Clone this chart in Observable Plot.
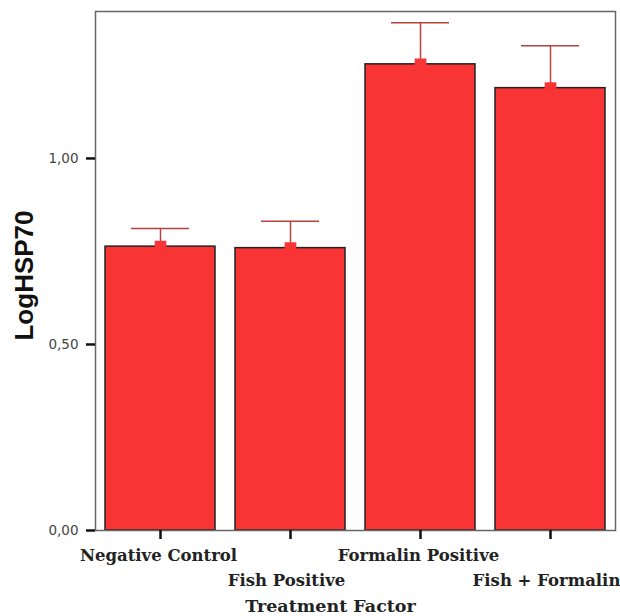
<!DOCTYPE html>
<html>
<head>
<meta charset="utf-8">
<script src="https://cdn.jsdelivr.net/npm/d3@7"></script>
<script src="https://cdn.jsdelivr.net/npm/@observablehq/plot@0.6"></script>
<style>
  html, body { margin: 0; padding: 0; background: #fff; }
</style>
</head>
<body>
<div id="chart"></div>
<script>
const categories = ["Negative Control", "Fish Positive", "Formalin Positive", "Fish + Formalin"];
const means = [0.763, 0.759, 1.253, 1.189];
const upper = [0.812, 0.831, 1.365, 1.303];
const yTicks = [0, 0.5, 1.0];

const data = categories.map((c, i) => ({cat: c, mean: means[i], upper: upper[i]}));
const serif = "DejaVu Serif";
const red = "#f93434";

const chart = Plot.plot({
  width: 620,
  height: 616,
  marginLeft: 95,
  marginRight: 5,
  marginTop: 11,
  marginBottom: 86,
  style: {background: "#fff"},
  x: {domain: categories, paddingInner: 0.154, paddingOuter: 0.077, axis: null},
  y: {domain: [0, 1.395], axis: null},
  marks: [
    Plot.barY(data, {x: "cat", y: "mean", fill: red, stroke: "#222", strokeWidth: 1.5}),
    Plot.ruleX(data, {x: "cat", y1: "mean", y2: "upper", stroke: "#b8413e", strokeWidth: 1.5}),
    Plot.tickY(data, {x: "cat", y: "upper", stroke: "#b8413e", strokeWidth: 1.5, insetLeft: 26, insetRight: 26}),
    Plot.dot(data, {x: "cat", y: "mean", symbol: "square", r: 6.6, fill: red, stroke: null}),
    Plot.frame({stroke: "#666", strokeWidth: 1.5}),
    Plot.axisY(yTicks, {
      tickSize: 9, strokeWidth: 2.5, stroke: "#111", tickPadding: 8,
      tickFormat: d => d.toFixed(2).replace(".", ","),
      fontSize: 13.5, fontFamily: "DejaVu Sans", fill: "#444", label: null
    }),
    Plot.axisX(categories, {
      tickSize: 9, strokeWidth: 2.5, stroke: "#111", tickFormat: () => "", label: null
    }),
    Plot.axisX([categories[0], categories[2]], {
      tickSize: 0, tickPadding: 19, dx: -2, fontFamily: serif, fontWeight: "bold", fontSize: 16.5,
      fill: "#222", label: null
    }),
    Plot.axisX([categories[1], categories[3]], {
      tickSize: 0, tickPadding: 44, dx: -4, fontFamily: serif, fontWeight: "bold", fontSize: 16.5,
      fill: "#222", label: null
    }),
    Plot.text(["LogHSP70"], {
      frameAnchor: "left", textAnchor: "middle", rotate: -90, dx: -71, dy: 4.5, fontSize: 26, fontWeight: "bold",
      fontFamily: "Liberation Sans", fill: "#111"
    }),
    Plot.text(["Treatment Factor"], {
      frameAnchor: "bottom", lineAnchor: "middle", dx: -25, dy: 76, fontSize: 17.5, fontWeight: "bold",
      fontFamily: serif, fill: "#222"
    })
  ]
});
document.getElementById("chart").appendChild(chart);
</script>
</body>
</html>
